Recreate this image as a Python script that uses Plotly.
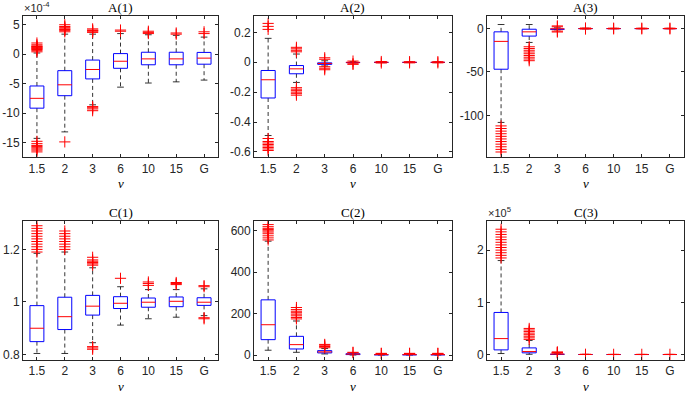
import plotly.graph_objects as go

# ---------------- data ----------------
CATS = ["1.5", "2", "3", "6", "10", "15", "G"]

# A(1)  (values in units of 1e-4)
A1_Q1 = [-9.17, -7.05, -4.2, -2.4, -1.8, -1.8, -1.7]
A1_MED = [-7.5, -5.2, -2.6, -1.2, -0.8, -0.8, -0.67]
A1_Q3 = [-5.4, -2.8, -1.0, 0.1, 0.33, 0.33, 0.3]
A1_LO = [-14.3, -13.2, -8.6, -5.6, -4.9, -4.7, -4.4]
A1_HI = [0.2, 3.4, 3.4, 3.5, 3.3, 3.2, 2.9]
A1_OUT = [
    [0.4, 0.6, 0.8, 0.9, 1.0, 1.1, 1.2, 1.3, 1.4, 1.6, 1.9,
     -14.8, -15.2, -15.5, -15.7, -15.9, -16.1, -16.3, -16.6],
    [3.8, 4.0, 4.2, 4.3, 4.5, 4.7, 5.0, -14.9],
    [3.7, 3.9, 4.0, 4.1, 4.3, -8.9, -9.1, -9.3, -9.6],
    [3.9, 4.1],
    [3.5, 3.7, 3.9],
    [3.4, 3.6],
    [3.5, 3.8],
]

# A(2)
A2_Q1 = [-0.239, -0.077, -0.014, -0.002, -0.001, -0.001, -0.001]
A2_MED = [-0.117, -0.044, -0.008, 0.0, 0.0, 0.0, 0.0]
A2_Q3 = [-0.055, -0.022, -0.004, 0.002, 0.001, 0.001, 0.001]
A2_LO = [-0.49, -0.135, -0.025, -0.004, -0.002, -0.002, -0.002]
A2_HI = [0.16, 0.055, 0.01, 0.004, 0.002, 0.002, 0.002]
A2_OUT = [
    [0.22, 0.24, 0.26, -0.51, -0.53, -0.54, -0.55, -0.56, -0.57, -0.58, -0.59],
    [0.07, 0.08, 0.09, 0.10, -0.17, -0.18, -0.19, -0.20, -0.21, -0.22],
    [0.02, 0.03, -0.03, -0.04, -0.05],
    [0.008, -0.01, -0.014],
    [0.005, -0.005],
    [0.004, -0.004],
    [0.004, -0.004],
]

# A(3)
A3_Q1 = [-46.8, -8.7, -0.8, -0.1, -0.1, -0.1, -0.1]
A3_MED = [-14.8, -3.8, -0.3, 0.0, 0.0, 0.0, 0.0]
A3_Q3 = [-3.8, -0.8, 0.0, 0.1, 0.1, 0.1, 0.1]
A3_LO = [-108, -16, -1.5, -0.3, -0.2, -0.2, -0.2]
A3_HI = [4.6, 4.6, 0.8, 0.3, 0.2, 0.2, 0.2]
A3_OUT = [
    [-112, -115, -118, -121, -124, -127, -130, -133, -136, -139, -142],
    [-21, -23, -25, -27, -29, -31, -33, -35, -37],
    [2, 3, -3, -4],
    [0.6, -0.6],
    [0.4, -0.4],
    [0.4, -0.4],
    [0.4, -0.4],
]

# C(1)
C1_Q1 = [0.849, 0.895, 0.95, 0.975, 0.98, 0.982, 0.987]
C1_MED = [0.900, 0.944, 0.984, 0.995, 0.999, 1.0025, 0.999]
C1_Q3 = [0.986, 1.018, 1.025, 1.02, 1.015, 1.019, 1.016]
C1_LO = [0.804, 0.804, 0.845, 0.912, 0.936, 0.942, 0.948]
C1_HI = [1.185, 1.19, 1.13, 1.058, 1.047, 1.047, 1.05]
C1_OUT = [
    [1.19, 1.20, 1.21, 1.22, 1.23, 1.24, 1.25, 1.26, 1.27, 1.28, 1.29],
    [1.20, 1.21, 1.22, 1.23, 1.24, 1.25, 1.26, 1.27],
    [1.14, 1.145, 1.15, 1.155, 1.16, 1.17, 0.83, 0.825, 0.82],
    [1.09],
    [1.063, 1.07, 1.076],
    [1.066, 1.07, 1.074],
    [1.058, 1.062, 0.94, 0.936],
]

# C(2)
C2_Q1 = [75, 30, 11, 3, 2, 2, 2]
C2_MED = [147, 51, 16, 5, 3, 3, 3]
C2_Q3 = [267, 91, 22, 7, 4, 4, 4]
C2_LO = [24, 14, 6, 1, 1, 1, 1]
C2_HI = [550, 165, 32, 10, 7, 7, 7]
C2_OUT = [
    [556, 566, 576, 586, 594, 600, 606, 612, 620, 630],
    [175, 182, 190, 198, 205, 212, 220, 230],
    [36, 42, 48, 52],
    [12, 14],
    [8, 9],
    [8, 9],
    [8, 9],
]

# C(3)  (values in units of 1e5)
C3_Q1 = [0.089, 0.032, 0.004, 0.0005, 0.0003, 0.0003, 0.0003]
C3_MED = [0.305, 0.057, 0.008, 0.001, 0.0006, 0.0006, 0.0006]
C3_Q3 = [0.806, 0.127, 0.014, 0.002, 0.001, 0.001, 0.001]
C3_LO = [0.019, 0.005, 0.001, 0.0, 0.0, 0.0, 0.0]
C3_HI = [1.8, 0.27, 0.028, 0.004, 0.002, 0.002, 0.002]
C3_OUT = [
    [1.85, 1.9, 1.95, 2.0, 2.05, 2.1, 2.15, 2.2, 2.25, 2.3, 2.35, 2.4],
    [0.29, 0.32, 0.35, 0.38, 0.41, 0.44, 0.47, 0.5],
    [0.03, 0.035, 0.04, 0.05],
    [0.005],
    [0.004],
    [0.004],
    [0.004],
]

PANELS = [
    dict(title="A(1)", q1=A1_Q1, med=A1_MED, q3=A1_Q3, lo=A1_LO, hi=A1_HI, out=A1_OUT,
         yrange=[-17.5, 6.5], ticks=[-15, -10, -5, 0, 5], exp="×10<sup>-4</sup>"),
    dict(title="A(2)", q1=A2_Q1, med=A2_MED, q3=A2_Q3, lo=A2_LO, hi=A2_HI, out=A2_OUT,
         yrange=[-0.635, 0.31], ticks=[-0.6, -0.4, -0.2, 0, 0.2], exp=None),
    dict(title="A(3)", q1=A3_Q1, med=A3_MED, q3=A3_Q3, lo=A3_LO, hi=A3_HI, out=A3_OUT,
         yrange=[-148, 14.5], ticks=[-100, -50, 0], exp=None),
    dict(title="C(1)", q1=C1_Q1, med=C1_MED, q3=C1_Q3, lo=C1_LO, hi=C1_HI, out=C1_OUT,
         yrange=[0.7785, 1.3085], ticks=[0.8, 1, 1.2], exp=None),
    dict(title="C(2)", q1=C2_Q1, med=C2_MED, q3=C2_Q3, lo=C2_LO, hi=C2_HI, out=C2_OUT,
         yrange=[-24, 648], ticks=[0, 200, 400, 600], exp=None),
    dict(title="C(3)", q1=C3_Q1, med=C3_MED, q3=C3_Q3, lo=C3_LO, hi=C3_HI, out=C3_OUT,
         yrange=[-0.108, 2.56], ticks=[0, 1, 2], exp="×10<sup>5</sup>"),
]

# ---------------- layout geometry (pixels) ----------------
W, H = 685, 396
COLS = [(23, 218), (254, 452), (487, 684)]
ROWS = [(16, 158), (222, 362)]

BOX_HW = 0.25
CAP_HW = 0.12
AXCOL = "#262626"
TICKFONT = dict(family="Liberation Sans, Arial, sans-serif", size=12, color=AXCOL)
EXPFONT = dict(family="Liberation Sans, Arial, sans-serif", size=11, color=AXCOL)
SERIF = "Liberation Serif, Times New Roman, serif"


def fmt(v):
    return "%g" % v


fig = go.Figure()
annotations = []

for k, p in enumerate(PANELS):
    r, c = divmod(k, 3)
    x0, x1 = COLS[c]
    y0, y1 = ROWS[r]
    n = k + 1
    xa = "x" if n == 1 else "x%d" % n
    ya = "y" if n == 1 else "y%d" % n

    bx, by, mx, my, wx, wy, cx, cy, ox, oy = [], [], [], [], [], [], [], [], [], []
    for i in range(len(CATS)):
        pos = i + 1
        q1, med, q3, lo, hi = p["q1"][i], p["med"][i], p["q3"][i], p["lo"][i], p["hi"][i]
        bx += [pos - BOX_HW, pos + BOX_HW, pos + BOX_HW, pos - BOX_HW, pos - BOX_HW, None]
        by += [q1, q1, q3, q3, q1, None]
        mx += [pos - BOX_HW, pos + BOX_HW, None]
        my += [med, med, None]
        wx += [pos, pos, None, pos, pos, None]
        wy += [q3, hi, None, q1, lo, None]
        cx += [pos - CAP_HW, pos + CAP_HW, None, pos - CAP_HW, pos + CAP_HW, None]
        cy += [hi, hi, None, lo, lo, None]
        for v in p["out"][i]:
            ox.append(pos)
            oy.append(v)

    common = dict(xaxis=xa, yaxis=ya, showlegend=False, hoverinfo="skip")
    fig.add_trace(go.Scatter(x=wx, y=wy, mode="lines",
                             line=dict(color="black", width=0.8, dash="4px,3px"), **common))
    fig.add_trace(go.Scatter(x=cx, y=cy, mode="lines",
                             line=dict(color="black", width=0.8), **common))
    fig.add_trace(go.Scatter(x=bx, y=by, mode="lines",
                             line=dict(color="#0000ff", width=1), **common))
    fig.add_trace(go.Scatter(x=mx, y=my, mode="lines",
                             line=dict(color="#ff0000", width=1), **common))
    fig.add_trace(go.Scatter(x=ox, y=oy, mode="markers",
                             marker=dict(symbol="cross-thin", size=8,
                                         line=dict(color="#ff0000", width=1)),
                             **common))

    xdom = [x0 / W, x1 / W]
    ydom = [1 - y1 / H, 1 - y0 / H]
    axis_common = dict(showline=True, linecolor=AXCOL, linewidth=0.8, mirror="ticks",
                       ticks="inside", ticklen=3, tickwidth=0.8, tickcolor=AXCOL,
                       showgrid=False, zeroline=False, tickfont=TICKFONT)
    fig.update_layout(**{
        ("xaxis" if n == 1 else "xaxis%d" % n): dict(
            domain=xdom, anchor=ya, range=[0.5, 7.5],
            tickvals=list(range(1, len(CATS) + 1)), ticktext=CATS, **axis_common),
        ("yaxis" if n == 1 else "yaxis%d" % n): dict(
            domain=ydom, anchor=xa, range=p["yrange"],
            tickvals=p["ticks"], ticktext=[fmt(t) for t in p["ticks"]], **axis_common),
    })

    xc = (x0 + x1) / 2 / W
    annotations.append(dict(text=p["title"], x=xc, y=1 - 8 / H if r == 0 else 1 - (y0 - 8) / H,
                            xref="paper", yref="paper",
                            xanchor="center", yanchor="middle", showarrow=False,
                            font=dict(family=SERIF, size=13, color="black")))
    annotations.append(dict(text="<i>ν</i>", x=xc, y=1 - (y1 + 26) / H, xref="paper", yref="paper",
                            xanchor="center", yanchor="middle", showarrow=False,
                            font=dict(family=SERIF, size=13, color="black")))
    if p["exp"]:
        annotations.append(dict(text=p["exp"], x=(x0 - 1) / W, y=1 - (y0 - 9) / H,
                                xref="paper", yref="paper", xanchor="left", yanchor="middle",
                                showarrow=False, font=EXPFONT))

fig.update_layout(width=W, height=H, margin=dict(l=0, r=0, t=0, b=0),
                  paper_bgcolor="white", plot_bgcolor="white",
                  annotations=annotations)

fig.write_html("out.html", config={"displayModeBar": False},
               post_script="document.body.style.margin='0px';document.body.style.overflow='hidden';")
